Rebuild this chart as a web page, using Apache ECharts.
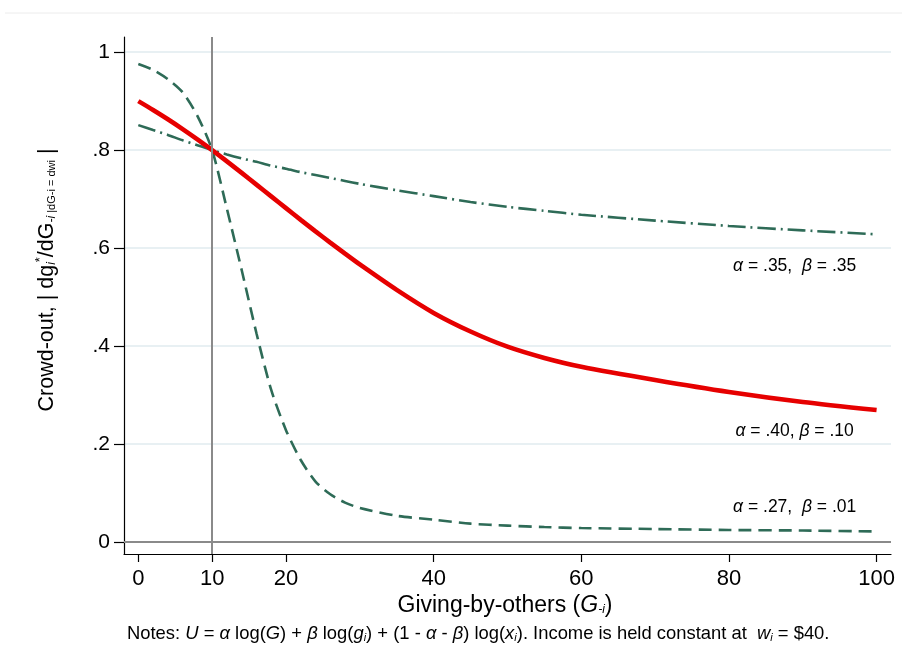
<!DOCTYPE html>
<html><head><meta charset="utf-8">
<script src="https://cdn.jsdelivr.net/npm/echarts@6/dist/echarts.min.js"></script>
<style>html,body{margin:0;padding:0;background:#fff}#c{width:902px;height:664px}</style>
</head><body><div id="c"></div>
<script>
// Giving-by-others G_-i
const givingByOthers = [0,2,4,6,8,10,12,14,16,18,20,22,24,26,28,30,35,40,45,50,55,60,70,80,90,100];
// alpha=.40, beta=.10 (red solid)
const crowdOutA40B10 = [0.900,0.882,0.863,0.843,0.822,0.800,0.777,0.7535,0.7295,0.7055,0.6815,0.6575,0.634,0.611,0.5885,0.5665,0.5145,0.4675,0.4295,0.3985,0.3755,0.3575,0.3305,0.306,0.2855,0.269];
// alpha=.35, beta=.35 (dash-dot)
const crowdOutA35B35 = [0.851,0.841,0.831,0.820,0.810,0.800,0.791,0.783,0.776,0.768,0.762,0.755,0.749,0.743,0.737,0.731,0.718,0.706,0.694,0.684,0.676,0.668,0.656,0.645,0.636,0.628];
// alpha=.27, beta=.01 (dashed)
const crowdOutA27B01 = [0.976,0.964,0.945,0.918,0.870,0.800,0.680,0.555,0.426,0.310,0.228,0.167,0.123,0.097,0.080,0.069,0.053,0.045,0.037,0.033,0.030,0.028,0.026,0.024,0.023,0.021];
const yTicks = [0,0.2,0.4,0.6,0.8,1];
const yTickLabels = {0:'0',0.2:'.2',0.4:'.4',0.6:'.6',0.8:'.8',1:'1'};
const xTicks = [0,10,20,40,60,80,100];
const referenceG = 10;
const seriesLabels = ['{g|α} = .40, {g|β} = .10','{g|α} = .35,  {g|β} = .35','{g|α} = .27,  {g|β} = .01'];
const labelAnchors = [[88.9,0.2265],[88.9,0.563],[88.9,0.0714]];

const FONT = "'Liberation Sans', Arial, sans-serif";
const GREEN = '#2e6b57';
const pairs = ys => givingByOthers.map((x,i)=>[x, ys[i]]);
const lblRich = {g:{fontStyle:'italic', fontSize:17.5, fontFamily:FONT, color:'#000'}};
function mp(i){
  return {symbol:'circle', symbolSize:0, silent:true,
    data:[{coord:labelAnchors[i]}],
    label:{show:true, position:'inside', formatter:seriesLabels[i], fontSize:17.5, fontFamily:FONT, color:'#000', rich:lblRich}};
}
const chart = echarts.init(document.getElementById('c'), null, {renderer:'canvas'});
chart.setOption({
  animation:false,
  backgroundColor:'#fff',
  grid:{left:124, top:37, width:767, height:517, containLabel:false},
  xAxis:{type:'value', min:-1.94, max:101.95,
    axisLine:{show:true, onZero:false, lineStyle:{color:'#000', width:1.2}},
    axisTick:{show:true, customValues:xTicks, length:8, lineStyle:{color:'#000', width:1.2}},
    axisLabel:{customValues:xTicks, fontSize:22, fontFamily:FONT, color:'#000', margin:14},
    splitLine:{show:false}},
  yAxis:{type:'value', min:-0.025, max:1.031,
    axisLine:{show:true, onZero:false, lineStyle:{color:'#000', width:1.2}},
    axisTick:{show:true, customValues:yTicks, length:10, lineStyle:{color:'#000', width:1.2}},
    axisLabel:{customValues:yTicks, fontSize:21, fontFamily:FONT, color:'#000', margin:14,
      formatter:v=>yTickLabels[Math.round(v*10)/10] ?? ''},
    splitLine:{show:true, lineStyle:{color:'#e8f0f3', width:2}}},
  series:[
    {type:'line', data:[], z:1, silent:true,
      markLine:{silent:true, symbol:'none', label:{show:false},
        lineStyle:{color:'#8a8a8a', width:2, type:'solid'},
        data:[{xAxis:referenceG},{yAxis:0}]}},
    {type:'line', name:'a27', data:pairs(crowdOutA27B01), showSymbol:false, smooth:0.25, z:3,
      lineStyle:{color:GREEN, width:2.6, type:[13,7]}, markPoint:mp(2)},
    {type:'line', name:'a35', data:pairs(crowdOutA35B35), showSymbol:false, smooth:0.25, z:3,
      lineStyle:{color:GREEN, width:2.6, type:[18,5,2,5]}, markPoint:mp(1)},
    {type:'line', name:'a40', data:pairs(crowdOutA40B10), showSymbol:false, smooth:0.25, z:4,
      lineStyle:{color:'#e60000', width:4.6}, markPoint:mp(0)}
  ],
  graphic:[
    {type:'line', shape:{x1:5,y1:13,x2:902,y2:13}, style:{stroke:'#ececec', lineWidth:1}, silent:true},
    {type:'text', x:47, y:280, rotation:Math.PI/2, silent:true,
      style:{align:'center', verticalAlign:'middle', fill:'#000', fontFamily:FONT, fontSize:21.5,
        text:'{n|Crowd-out, | dg}{sub|i}{sup|*}{n|/dG}{sub|-i}{small| |dG-i = dwi}{n| |}',
        rich:{n:{fontSize:21.5, fontFamily:FONT, lineHeight:26, verticalAlign:'middle'},
          sub:{fontSize:12, fontStyle:'italic', fontFamily:FONT, lineHeight:26, verticalAlign:'bottom', padding:[0,0,2,0]},
          sup:{fontSize:13, fontFamily:FONT, lineHeight:26, verticalAlign:'top'},
          small:{fontSize:11, fontFamily:FONT, lineHeight:26, verticalAlign:'bottom', padding:[0,0,3,0]}}}},
    {type:'text', x:505, y:606, silent:true,
      style:{align:'center', verticalAlign:'middle', fill:'#000', fontFamily:FONT, fontSize:23,
        text:'{n|Giving-by-others (}{i|G}{sub|-i}{n|)}',
        rich:{n:{fontSize:23, fontFamily:FONT, lineHeight:26, verticalAlign:'middle'},
          i:{fontSize:23, fontStyle:'italic', fontFamily:FONT, lineHeight:26, verticalAlign:'middle'},
          sub:{fontSize:12, fontStyle:'italic', fontFamily:FONT, lineHeight:26, verticalAlign:'bottom', padding:[0,0,3,0]}}}},
    {type:'text', x:127, y:634, silent:true,
      style:{align:'left', verticalAlign:'middle', fill:'#000', fontFamily:FONT, fontSize:18.4,
        text:'{n|Notes: }{i|U}{n| = }{i|α}{n| log(}{i|G}{n|) + }{i|β}{n| log(}{i|g}{s|i}{n|) + (1 - }{i|α}{n| - }{i|β}{n|) log(}{i|x}{s|i}{n|). Income is held constant at  }{i|w}{s|i}{n| = $40.}',
        rich:{n:{fontSize:18.4, fontFamily:FONT, lineHeight:22, verticalAlign:'middle'},
          i:{fontSize:18.4, fontStyle:'italic', fontFamily:FONT, lineHeight:22, verticalAlign:'middle'},
          s:{fontSize:11, fontStyle:'italic', fontFamily:FONT, lineHeight:22, verticalAlign:'bottom', padding:[0,0,2,0]}}}}
  ]
});
</script></body></html>
